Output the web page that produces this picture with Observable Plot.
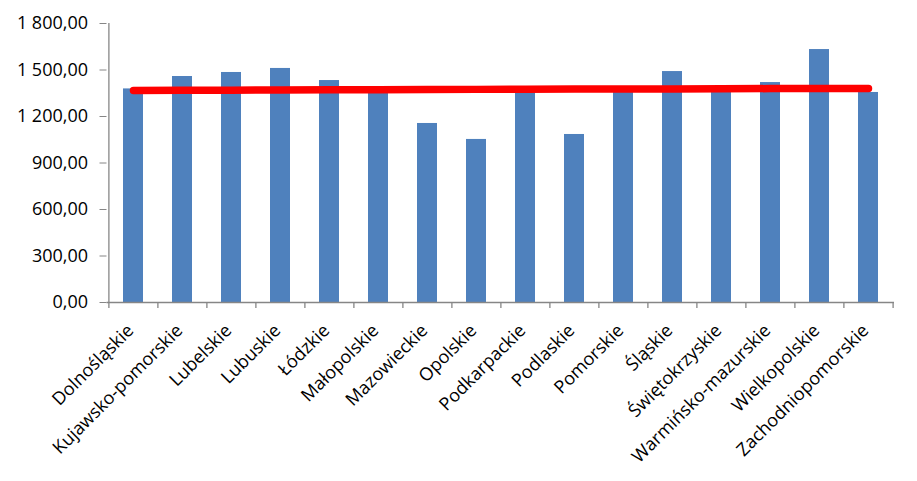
<!DOCTYPE html>
<html>
<head>
<meta charset="utf-8">
<script src="https://cdn.jsdelivr.net/npm/d3@7"></script>
<script src="https://cdn.jsdelivr.net/npm/@observablehq/plot@0.6"></script>
<style>
  html, body { margin: 0; padding: 0; background: #fff; }
  #chart { width: 917px; height: 481px; }
</style>
</head>
<body>
<div id="chart"></div>
<script>
const regions = ["Dolnośląskie","Kujawsko-pomorskie","Lubelskie","Lubuskie","Łódzkie","Małopolskie","Mazowieckie","Opolskie","Podkarpackie","Podlaskie","Pomorskie","Śląskie","Świętokrzyskie","Warmińsko-mazurskie","Wielkopolskie","Zachodniopomorskie"];
const barValues = [1378, 1458, 1484, 1510, 1432, 1360, 1155, 1052, 1365, 1084, 1368, 1490, 1362, 1419, 1632, 1355];
const lineValues = [1368, 1369, 1370, 1371, 1372, 1373, 1374, 1375, 1376, 1377, 1377, 1378, 1379, 1380, 1380, 1381];
const yTicks = [0, 300, 600, 900, 1200, 1500, 1800];

const bars = regions.map((r, i) => ({region: r, value: barValues[i]}));
const line = regions.map((r, i) => ({region: r, value: lineValues[i]}));

const W = 917, H = 481;
const mL = 106.5, mR = 23, mT = 23, mB = 179;
const step = (W - mL - mR) / regions.length;
const axisColor = "#868686";
const fmt = d3.formatLocale({decimal: ",", thousands: "\u00a0", grouping: [3]}).format(",.2f");

const chart = Plot.plot({
  width: W,
  height: H,
  marginLeft: mL,
  marginRight: mR,
  marginTop: mT,
  marginBottom: mB,
  style: {fontFamily: "'Open Sans', sans-serif", fontSize: "18px", color: "#000", background: "#fff"},
  x: {domain: regions, paddingInner: 0.59, paddingOuter: 0.295, label: null},
  y: {domain: [0, 1800], label: null},
  marks: [
    Plot.barY(bars, {x: "region", y: "value", fill: "#4F81BD"}),
    Plot.line(line, {x: "region", y: "value", stroke: "#FF0000", strokeWidth: 7.5, strokeLinecap: "round", strokeLinejoin: "round"}),
    Plot.axisY({ticks: yTicks, tickFormat: fmt, tickSize: 7, tickPadding: 12, stroke: axisColor, fill: "#000", fontSize: 18, label: null}),
    Plot.ruleX([regions[0]], {x: d => d, dx: -step / 2, stroke: axisColor, strokeWidth: 1.3}),
    Plot.ruleY([0], {stroke: axisColor, strokeWidth: 1.3}),
    Plot.ruleX(regions, {x: d => d, dx: -step / 2, y1: 0, y2: 0, insetBottom: -6, stroke: axisColor, strokeWidth: 1.3}),
    Plot.ruleX([regions[regions.length - 1]], {x: d => d, dx: step / 2, y1: 0, y2: 0, insetBottom: -6, stroke: axisColor, strokeWidth: 1.3}),
    Plot.axisX({tickSize: 0, tickRotate: -45, tickPadding: 14, dx: -3, dy: 11, fill: "#000", fontSize: 18, label: null})
  ]
});
document.getElementById("chart").appendChild(chart);
</script>
</body>
</html>
